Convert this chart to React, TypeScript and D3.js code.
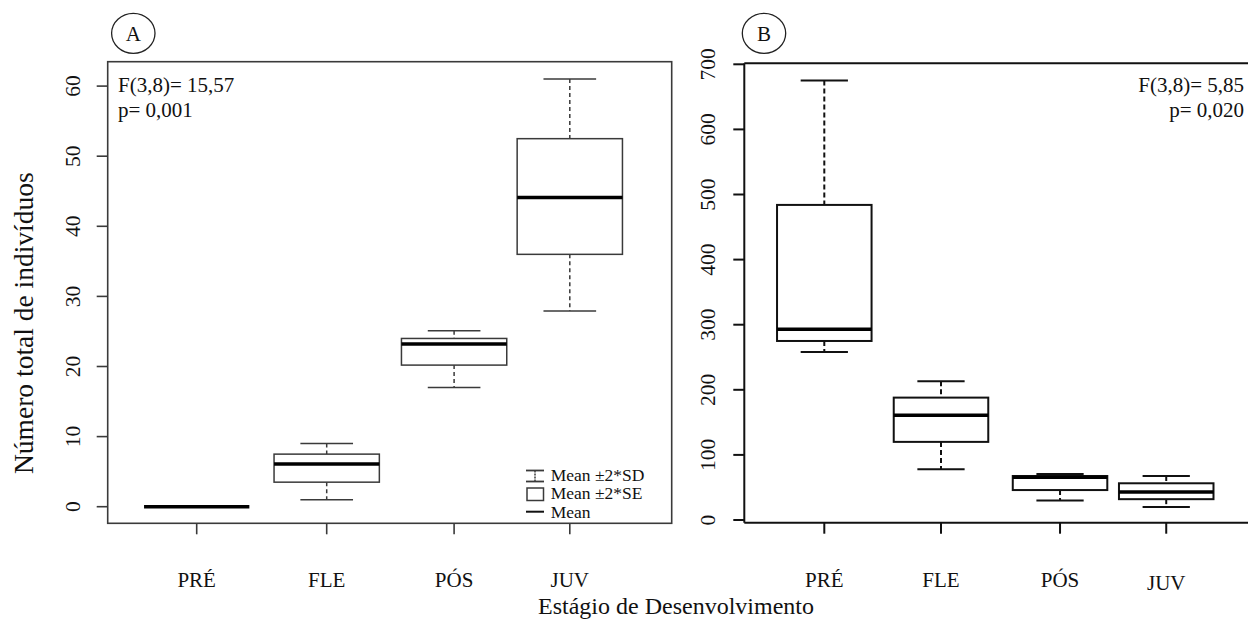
import React from "react";
import * as d3 from "d3";

// ---------- data ----------
const categories = ["PRÉ", "FLE", "PÓS", "JUV"];
// group positions along the x axis (uneven spacing as in the original)
const positionsA = [1, 2, 2.98, 3.87];
const positionsB = [1, 2, 3.02, 3.93];
// [lower whisker, box low, centre line, box high, upper whisker]
const statsA = [
  [0, 0, 0, 0, 0],
  [1.0, 3.5, 6.1, 7.5, 9.0],
  [17.0, 20.2, 23.2, 24.0, 25.1],
  [27.9, 36.0, 44.1, 52.5, 61.0],
];
const statsB = [
  [258, 275, 293, 484, 675],
  [78, 120, 161, 188, 213],
  [30, 46, 65.5, 67.6, 70.7],
  [20, 32, 43, 56.4, 67.6],
];
const ticksA = [0, 10, 20, 30, 40, 50, 60];
const ticksB = [0, 100, 200, 300, 400, 500, 600, 700];
const statTextA = ["F(3,8)= 15,57", "p= 0,001"];
const statTextB = ["F(3,8)= 5,85", "p= 0,020"];
const legendLabels = ["Mean ±2*SD", "Mean ±2*SE", "Mean"];
const yTitle = "Número total de indivíduos";
const xTitle = "Estágio de Desenvolvimento";

const FONT = "'Liberation Serif', 'Times New Roman', Times, serif";

type PanelProps = {
  stats: number[][];
  positions: number[];
  x: d3.ScaleLinear<number, number>;
  y: d3.ScaleLinear<number, number>;
  color: string;
  lw: number;
  dash: string;
};

function Boxes({ stats, positions, x, y, color, lw, dash }: PanelProps) {
  const half = x(1 + 0.405) - x(1);
  return (
    <g>
      {stats.map((s, i) => {
        const cx = x(positions[i]);
        const [lo, q1, med, q3, hi] = s;
        const capHalf = half / 2;
        return (
          <g key={i}>
            <line x1={cx} x2={cx} y1={y(hi)} y2={y(q3)} stroke={color} strokeWidth={lw} strokeDasharray={dash} />
            <line x1={cx} x2={cx} y1={y(q1)} y2={y(lo)} stroke={color} strokeWidth={lw} strokeDasharray={dash} />
            <line x1={cx - capHalf} x2={cx + capHalf} y1={y(hi)} y2={y(hi)} stroke={color} strokeWidth={lw} />
            <line x1={cx - capHalf} x2={cx + capHalf} y1={y(lo)} y2={y(lo)} stroke={color} strokeWidth={lw} />
            <rect x={cx - half} y={y(q3)} width={2 * half} height={Math.max(0, y(q1) - y(q3))} fill="white" stroke={color} strokeWidth={lw} />
            <line x1={cx - half} x2={cx + half} y1={y(med)} y2={y(med)} stroke="#000" strokeWidth={3.4} />
          </g>
        );
      })}
    </g>
  );
}

export default function App() {
  // Panel A scales
  const xA = d3.scaleLinear().domain([1, 2]).range([196.7, 326.7]);
  const yA = d3.scaleLinear().domain([0, 60]).range([506.7, 86.1]);
  // Panel B scales
  const xB = d3.scaleLinear().domain([1, 2]).range([824.3, 941]);
  const yB = d3.scaleLinear().domain([0, 700]).range([520, 64.3]);

  const A = { l: 107.7, r: 671.7, t: 61.7, b: 523.3 };
  const B = { l: 744.3, r: 1248, t: 63.3, b: 522.7 };
  const tick = 11;
  const gA = "#3a3a3a";
  const gB = "#111";

  return (
    <svg width={1248} height={623} style={{ position: "absolute", left: 0, top: 0, background: "white" }} fontFamily={FONT}>
      <rect x={0} y={0} width={1248} height={623} fill="white" />

      {/* ---------- Panel A ---------- */}
      <rect x={A.l} y={A.t} width={A.r - A.l} height={A.b - A.t} fill="none" stroke={gA} strokeWidth={1.6} />
      {ticksA.map((t) => (
        <g key={t}>
          <line x1={A.l - tick} x2={A.l} y1={yA(t)} y2={yA(t)} stroke={gA} strokeWidth={1.6} />
          <text transform={`translate(80,${yA(t)}) rotate(-90)`} textAnchor="middle" fontSize={21.5} fill="#111">{t}</text>
        </g>
      ))}
      {categories.map((c, i) => (
        <g key={c}>
          <line x1={xA(positionsA[i])} x2={xA(positionsA[i])} y1={A.b} y2={A.b + tick} stroke={gA} strokeWidth={1.6} />
          <text x={xA(positionsA[i])} y={587} textAnchor="middle" fontSize={21} fill="#111">{c}</text>
        </g>
      ))}
      <Boxes stats={statsA} positions={positionsA} x={xA} y={yA} color={gA} lw={1.5} dash="4,3" />
      {statTextA.map((s, i) => (
        <text key={s} x={118} y={92 + i * 25} fontSize={21} fill="#111">{s}</text>
      ))}
      <ellipse cx={133.3} cy={33.3} rx={21.7} ry={20} fill="none" stroke="#222" strokeWidth={1.3} />
      <text x={133.3} y={40.5} textAnchor="middle" fontSize={21} fill="#111">A</text>

      {/* legend */}
      <g>
        <line x1={535} x2={535} y1={470.5} y2={481.5} stroke={gA} strokeWidth={1.5} strokeDasharray="2,1" />
        <line x1={526} x2={544} y1={470.5} y2={470.5} stroke={gA} strokeWidth={1.8} />
        <line x1={526} x2={544} y1={481.5} y2={481.5} stroke={gA} strokeWidth={1.8} />
        <rect x={527} y={488} width={16.5} height={12.5} fill="white" stroke={gA} strokeWidth={1.5} />
        <line x1={526} x2={544} y1={511.7} y2={511.7} stroke="#111" strokeWidth={2} />
        {legendLabels.map((s, i) => (
          <text key={s} x={550.7} y={481 + i * 18.4} fontSize={17.5} fill="#111">{s}</text>
        ))}
      </g>

      {/* ---------- Panel B ---------- */}
      <line x1={B.l} x2={B.r} y1={B.t} y2={B.t} stroke={gB} strokeWidth={2} />
      <line x1={B.l} x2={B.l} y1={B.t} y2={B.b} stroke={gB} strokeWidth={2} />
      <line x1={B.l} x2={B.r} y1={B.b} y2={B.b} stroke={gB} strokeWidth={2} />
      {ticksB.map((t) => (
        <g key={t}>
          <line x1={B.l - tick} x2={B.l} y1={yB(t)} y2={yB(t)} stroke={gB} strokeWidth={2} />
          <text transform={`translate(715,${yB(t)}) rotate(-90)`} textAnchor="middle" fontSize={21.5} fill="#111">{t}</text>
        </g>
      ))}
      {categories.map((c, i) => (
        <g key={c}>
          <line x1={xB(positionsB[i])} x2={xB(positionsB[i])} y1={B.b} y2={B.b + tick} stroke={gB} strokeWidth={2} />
          <text x={xB(positionsB[i])} y={c === "JUV" ? 590 : 587} textAnchor="middle" fontSize={21} fill="#111">{c}</text>
        </g>
      ))}
      <Boxes stats={statsB} positions={positionsB} x={xB} y={yB} color={gB} lw={2} dash="5,3" />
      {statTextB.map((s, i) => (
        <text key={s} x={1244} y={92 + i * 25} textAnchor="end" fontSize={21} fill="#111">{s}</text>
      ))}
      <ellipse cx={764} cy={33.3} rx={21.7} ry={20} fill="none" stroke="#222" strokeWidth={1.3} />
      <text x={764} y={40.5} textAnchor="middle" fontSize={21} fill="#111">B</text>

      {/* ---------- shared titles ---------- */}
      <text transform={`translate(33,474) rotate(-90)`} textAnchor="start" fontSize={27.5} fill="#111">{yTitle}</text>
      <text x={676} y={614} textAnchor="middle" fontSize={24} fill="#111">{xTitle}</text>
    </svg>
  );
}
